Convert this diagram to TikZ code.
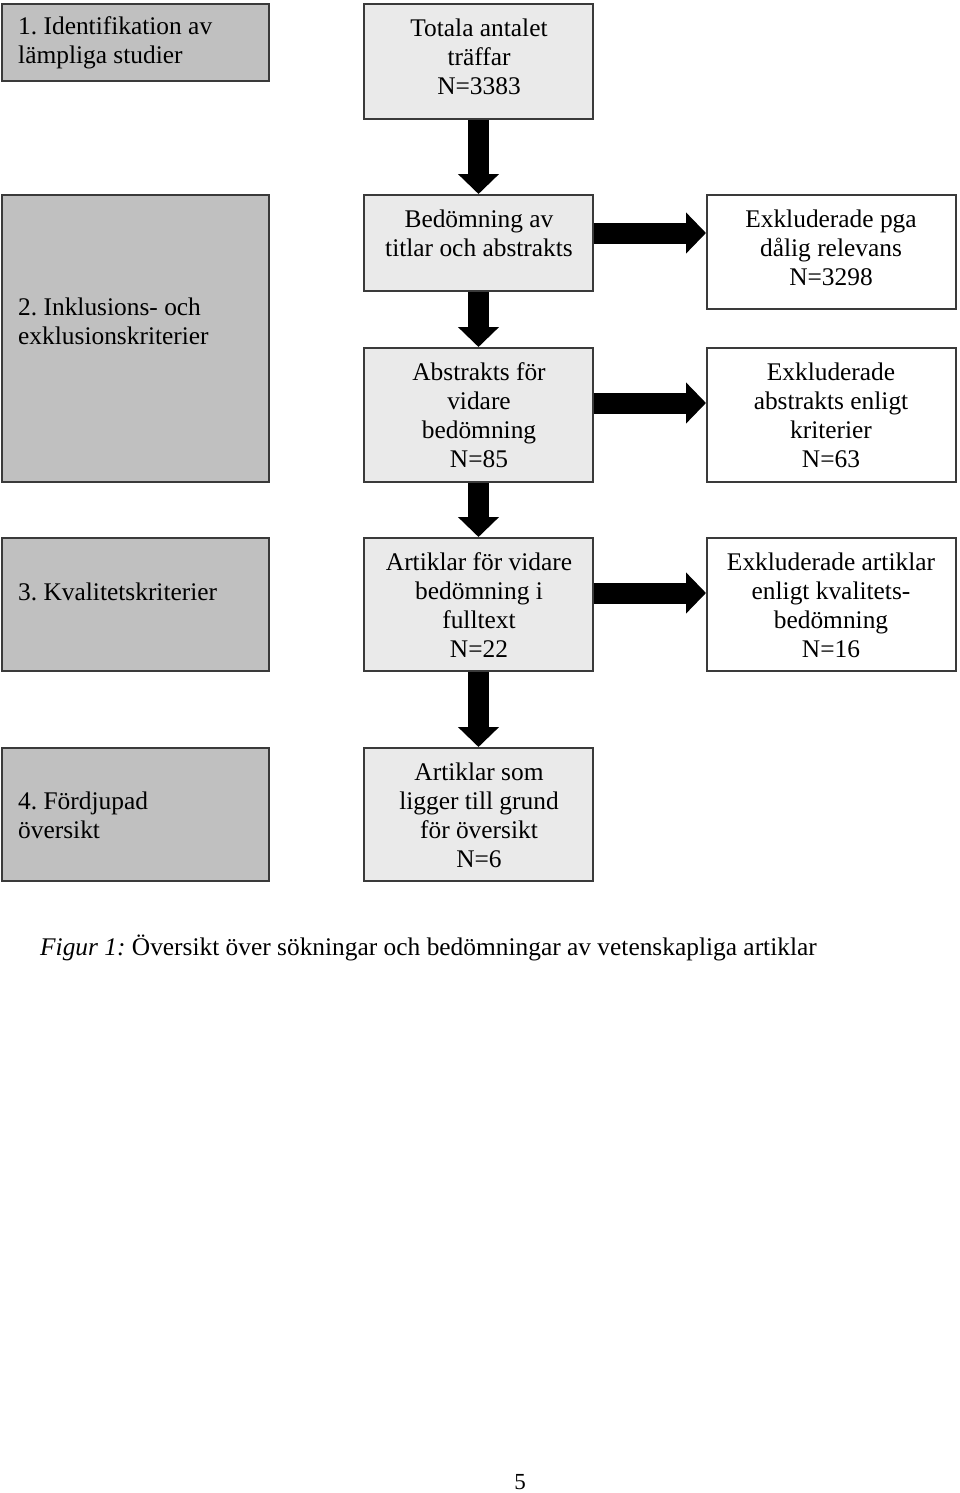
\documentclass[tikz,border=0pt]{standalone}
\usepackage{fontspec}
\setmainfont{Liberation Serif}
\usetikzlibrary{arrows.meta}
\frenchspacing
\definecolor{lgray}{HTML}{C0C0C0}
\definecolor{mgray}{HTML}{EAEAEA}
\definecolor{edge}{HTML}{3A3A3A}
\tikzset{
  boxbase/.style={draw=edge, line width=2pt, inner sep=0pt, rectangle},
  lbox/.style={boxbase, fill=lgray},
  mbox/.style={boxbase, fill=mgray},
  rbox/.style={boxbase, fill=white},
  txt/.style={inner sep=0pt, align=center, font=\fontsize{25.4pt}{29pt}\selectfont},
  ltxt/.style={inner sep=0pt, align=left, anchor=west, font=\fontsize{25.4pt}{29pt}\selectfont},
  bigarrow/.style={line width=21pt, line cap=butt, -{Triangle[width=40pt, length=20pt]}}
}
\begin{document}
\begin{tikzpicture}[x=1pt, y=-1pt]
\useasboundingbox (0,0) rectangle (960,1493);
% left column
\node[lbox, minimum width=267pt, minimum height=77pt] (l1) at (135.5,42.5) {};
\node[lbox, minimum width=267pt, minimum height=287pt] (l2) at (135.5,338.5) {};
\node[lbox, minimum width=267pt, minimum height=133pt] (l3) at (135.5,604.5) {};
\node[lbox, minimum width=267pt, minimum height=133pt] (l4) at (135.5,814.5) {};
\node[ltxt] (t1) at (18,43) {1. Identifikation av\\lämpliga studier};
\node[ltxt] (t2) at (18,321.5) {2. Inklusions- och\\exklusionskriterier};
\node[ltxt] (t3) at (18,592) {3. Kvalitetskriterier};
\node[ltxt] (t4) at (18,815.5) {4. Fördjupad\\översikt};
% middle column
\node[mbox, minimum width=229pt, minimum height=115pt] (tot) at (478.5,61.5) {};
\node[mbox, minimum width=229pt, minimum height=96pt] (bed) at (478.5,243) {};
\node[mbox, minimum width=229pt, minimum height=134pt] (abs) at (478.5,415) {};
\node[mbox, minimum width=229pt, minimum height=133pt] (art) at (478.5,604.5) {};
\node[mbox, minimum width=229pt, minimum height=133pt] (art2) at (478.5,814.5) {};
\node[txt] (ttot) at (479,57) {Totala antalet\\träffar\\N=3383};
\node[txt] (tbed) at (479,233.5) {Bedömning av\\titlar och abstrakts};
\node[txt] (tabs) at (479,415.5) {Abstrakts för\\vidare\\bedömning\\N=85};
\node[txt] (tart) at (479,605.5) {Artiklar för vidare\\bedömning i\\fulltext\\N=22};
\node[txt] (tart2) at (479,815.5) {Artiklar som\\ligger till grund\\för översikt\\N=6};
% right column
\node[rbox, minimum width=249pt, minimum height=114pt] (ex1) at (831.5,252) {};
\node[rbox, minimum width=249pt, minimum height=134pt] (ex2) at (831.5,415) {};
\node[rbox, minimum width=249pt, minimum height=133pt] (ex3) at (831.5,604.5) {};
\node[txt] (tex1) at (831,248) {Exkluderade pga\\dålig relevans\\N=3298};
\node[txt] (tex2) at (831,415.5) {Exkluderade\\abstrakts enligt\\kriterier\\N=63};
\node[txt] (tex3) at (831,605.5) {Exkluderade artiklar\\enligt kvalitets-\\bedömning\\N=16};
% arrows
\draw[bigarrow] (tot.south) -- (bed.north);
\draw[bigarrow] (bed.south) -- (abs.north);
\draw[bigarrow] (abs.south) -- (art.north);
\draw[bigarrow] (art.south) -- (art2.north);
\coordinate (a1) at (0,233);
\coordinate (a2) at (0,403);
\coordinate (a3) at (0,593);
\draw[bigarrow] (bed.east |- a1) -- (ex1.west |- a1);
\draw[bigarrow] (abs.east |- a2) -- (ex2.west |- a2);
\draw[bigarrow] (art.east |- a3) -- (ex3.west |- a3);
% caption and page number
\node[anchor=west, inner sep=0pt, font=\fontsize{25.4pt}{29pt}\selectfont] (cap) at (40,948) {\textit{Figur 1:} Översikt över sökningar och bedömningar av vetenskapliga artiklar};
\node[inner sep=0pt, font=\fontsize{23pt}{26pt}\selectfont] (pg) at (520,1482) {5};
\end{tikzpicture}
\end{document}
